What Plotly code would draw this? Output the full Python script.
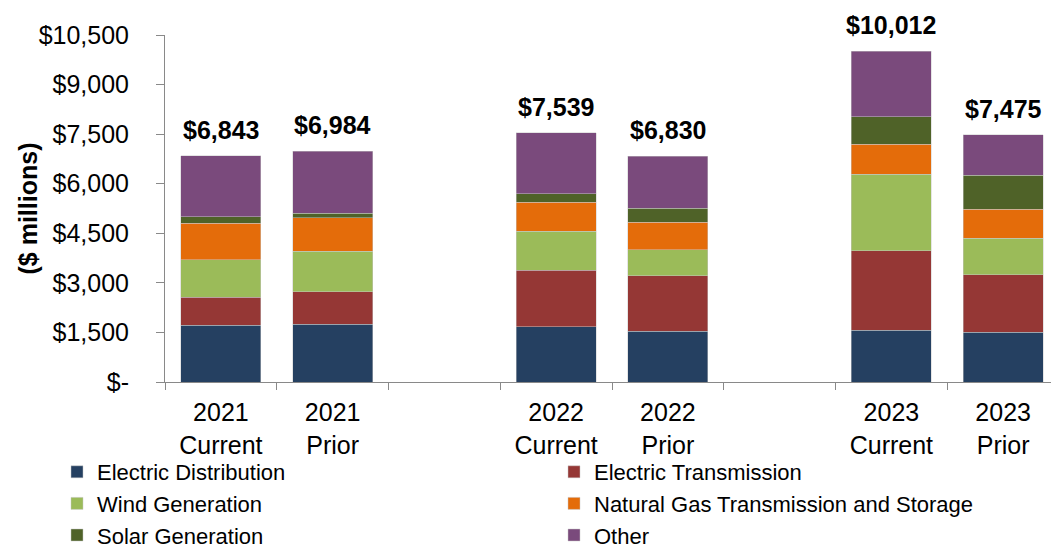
import plotly.graph_objects as go

categories = ["2021<br>Current", "2021<br>Prior", " ", "2022<br>Current", "2022<br>Prior", "  ",
              "2023<br>Current", "2023<br>Prior"]
electric_distribution = [1715, 1745, None, 1674, 1533, None, 1564, 1503]
electric_transmission = [848, 988, None, 1705, 1684, None, 2410, 1745]
wind_generation = [1129, 1221, None, 1190, 787, None, 2320, 1109]
natural_gas = [1110, 1019, None, 868, 828, None, 898, 868]
solar_generation = [200, 131, None, 252, 423, None, 837, 1029]
other = [1841, 1880, None, 1850, 1575, None, 1983, 1221]

series = [
    ("Electric Distribution", electric_distribution, "#254061"),
    ("Electric Transmission", electric_transmission, "#953735"),
    ("Wind Generation", wind_generation, "#9BBB59"),
    ("Natural Gas Transmission and Storage", natural_gas, "#E46C0A"),
    ("Solar Generation", solar_generation, "#4F6228"),
    ("Other", other, "#7A4A7C"),
]

y_ticks = [0, 1500, 3000, 4500, 6000, 7500, 9000, 10500]
y_ticktext = ["$-", "$1,500", "$3,000", "$4,500", "$6,000", "$7,500", "$9,000", "$10,500"]

FONT = "Arial, Liberation Sans, sans-serif"

fig = go.Figure()
for name, vals, color in series:
    fig.add_trace(go.Bar(
        x=categories, y=vals, name=name,
        marker=dict(color=color, line=dict(color="rgba(200,200,200,0.6)", width=0.8)),
    ))

# totals
for i, cat in enumerate(categories):
    vals = [s[1][i] for s in series]
    if vals[0] is None:
        continue
    total = sum(vals)
    fig.add_annotation(
        x=cat, y=total, text=f"<b>${total:,}</b>", showarrow=False,
        yanchor="bottom", yshift=10,
        font=dict(family=FONT, size=25, color="black"),
    )

fig.add_annotation(
    xref="paper", yref="paper", x=(19 - 157) / 894, y=0.5,
    text="<b>($ millions)</b>", textangle=-90, showarrow=False,
    xanchor="center", yanchor="middle",
    font=dict(family=FONT, size=25, color="black"),
)

fig.update_layout(
    width=1051, height=541,
    margin=dict(l=157, r=0, t=27, b=167, autoexpand=False),
    barmode="stack", bargap=0.284,
    plot_bgcolor="white", paper_bgcolor="white",
    font=dict(family=FONT, size=25, color="black"),
    showlegend=True,
    legend=dict(
        orientation="h", traceorder="normal",
        x=(49 - 157) / 894, xanchor="left",
        y=(374 - 443) / 347, yanchor="top",
        entrywidth=452, entrywidthmode="pixels",
        font=dict(family=FONT, size=22, color="black"),
        bgcolor="rgba(0,0,0,0)",
    ),
    xaxis=dict(
        type="category", showline=True, linecolor="#898989", linewidth=1,
        ticks="outside", tickson="boundaries", ticklen=7, tickcolor="#898989",
        showgrid=False, ticklabelstandoff=8,
        tickfont=dict(family=FONT, size=25, color="black"),
        fixedrange=True,
    ),
    yaxis=dict(
        range=[0, 10500], tickvals=y_ticks, ticktext=y_ticktext,
        showline=True, linecolor="#898989", linewidth=1,
        ticks="outside", ticklen=8, tickcolor="#898989",
        showgrid=False, zeroline=False, ticklabelstandoff=22,
        tickfont=dict(family=FONT, size=25, color="black"),
    ),
)

fig.write_html("out.html")
